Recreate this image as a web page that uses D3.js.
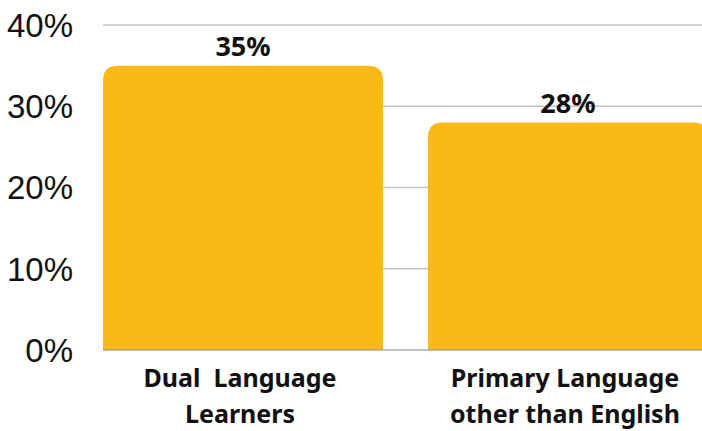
<!DOCTYPE html>
<html>
<head>
<meta charset="utf-8">
<script src="https://cdn.jsdelivr.net/npm/d3@7"></script>
<style>
  body { margin: 0; background: #fff; }
  svg { display: block; }
</style>
</head>
<body>
<div id="chart"></div>
<script>
let categories = [["Dual  Language", "Learners"], ["Primary Language", "other than English"]];
let values = [35, 28];
let yTicks = [0, 10, 20, 30, 40];

let margin = { top: 25, right: -6, bottom: 81, left: 103 };
let width = 702 - margin.left - margin.right;
let height = 431 - margin.top - margin.bottom;

let svg = d3.select("#chart")
    .append("svg")
    .attr("width", 702)
    .attr("height", 431)
    .append("g")
    .attr("transform", "translate(" + margin.left + "," + margin.top + ")");

let x = d3.scaleBand()
    .domain(d3.range(values.length))
    .range([0, width])
    .paddingInner(0.138)
    .paddingOuter(0);

let y = d3.scaleLinear().domain([0, 40]).range([height, 0]);

// gridlines
svg.selectAll(".grid")
    .data(yTicks.slice(1))
    .join("line")
    .attr("class", "grid")
    .attr("x1", 0)
    .attr("x2", width)
    .attr("y1", d => y(d))
    .attr("y2", d => y(d))
    .attr("stroke", "#c4c4c4")
    .attr("stroke-width", 1.5);

// y tick labels
svg.selectAll(".ylab")
    .data(yTicks)
    .join("text")
    .attr("class", "ylab")
    .attr("x", -30)
    .attr("y", d => y(d))
    .attr("dy", "0.36em")
    .attr("text-anchor", "end")
    .attr("font-family", "Liberation Sans, Arial, sans-serif")
    .attr("font-size", 33)
    .attr("fill", "#111")
    .text(d => d + "%");

// bars with rounded top corners
let r = 15;
let barPath = function (d, i) {
    let x0 = x(i), x1 = x(i) + x.bandwidth();
    let y0 = y(d), yb = y(0);
    return "M" + x0 + "," + yb +
        "V" + (y0 + r) +
        "Q" + x0 + "," + y0 + " " + (x0 + r) + "," + y0 +
        "H" + (x1 - r) +
        "Q" + x1 + "," + y0 + " " + x1 + "," + (y0 + r) +
        "V" + yb + "Z";
};

svg.selectAll(".bar")
    .data(values)
    .join("path")
    .attr("class", "bar")
    .attr("d", barPath)
    .attr("fill", "#fbb917");

// baseline
svg.append("line")
    .attr("x1", 0)
    .attr("x2", width)
    .attr("y1", y(0))
    .attr("y2", y(0))
    .attr("stroke", "#8a8a8a")
    .attr("stroke-width", 1.2);

// value labels
svg.selectAll(".vlab")
    .data(values)
    .join("text")
    .attr("class", "vlab")
    .attr("x", (d, i) => x(i) + x.bandwidth() / 2)
    .attr("y", d => y(d) - 10)
    .attr("text-anchor", "middle")
    .attr("font-family", "Noto Sans, sans-serif")
    .attr("font-weight", "bold")
    .attr("font-size", 27)
    .attr("fill", "#111")
    .text(d => d + "%");

// category labels
let cats = svg.selectAll(".xlab")
    .data(categories)
    .join("text")
    .attr("class", "xlab")
    .attr("text-anchor", "middle")
    .attr("font-family", "Noto Sans, sans-serif")
    .attr("font-weight", "bold")
    .attr("font-size", 25)
    .attr("fill", "#111")
    .style("white-space", "pre");

cats.selectAll("tspan")
    .data((d, i) => d.map(t => ({ t: t, i: i })))
    .join("tspan")
    .attr("x", d => x(d.i) + x.bandwidth() / 2 - 3)
    .attr("y", (d, j) => y(0) + 37 + j * 36)
    .text(d => d.t);
</script>
</body>
</html>
